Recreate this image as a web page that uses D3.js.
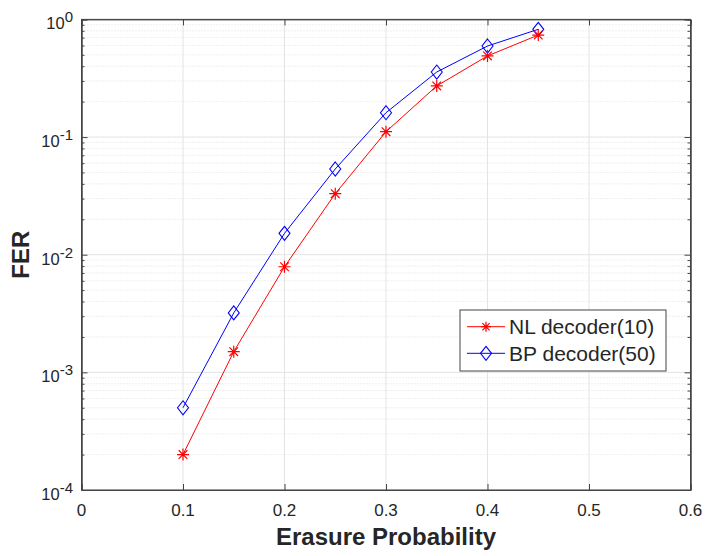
<!DOCTYPE html>
<html>
<head>
<meta charset="utf-8">
<script src="https://cdn.jsdelivr.net/npm/d3@7"></script>
<style>
  body { margin: 0; background: #fff; }
  text { font-family: "Liberation Sans", Arial, Helvetica, sans-serif; fill: #262626; }
</style>
</head>
<body>
<div id="chart"></div>
<script>
// data
const erasureProb = [0.1, 0.15, 0.2, 0.25, 0.3, 0.35, 0.4, 0.45];
const nlFER = [2.0e-4, 1.5e-3, 7.9e-3, 0.033, 0.111, 0.272, 0.489, 0.736];
const bpFER = [5.0e-4, 3.2e-3, 0.0152, 0.0535, 0.161, 0.357, 0.594, 0.824];
const seriesNames = ["NL decoder(10)", "BP decoder(50)"];
const xTicks = [0, 0.1, 0.2, 0.3, 0.4, 0.5, 0.6];
const yExps = [-4, -3, -2, -1, 0];

const W = 707, H = 556;
const pLeft = 81.5, pRight = 690.5, pTop = 19.4, pBottom = 490;

const svg = d3.select("#chart").append("svg").attr("width", W).attr("height", H);

const x = d3.scaleLinear().domain([0, 0.6]).range([pLeft, pRight]);
const y = d3.scaleLog().domain([1e-4, 1]).range([pBottom, pTop]);

// minor values 2..9 per decade
const minor = [];
yExps.slice(0, -1).forEach(e => { for (let k = 2; k <= 9; k++) minor.push(k * Math.pow(10, e)); });

const grid = svg.append("g");
grid.selectAll(".ymin").data(minor).enter().append("line")
  .attr("x1", pLeft).attr("x2", pRight)
  .attr("y1", d => y(d)).attr("y2", d => y(d))
  .attr("stroke", "#d8d8d8").attr("stroke-width", 0.8).attr("stroke-dasharray", "1,2");
grid.selectAll(".ymaj").data(yExps).enter().append("line")
  .attr("x1", pLeft).attr("x2", pRight)
  .attr("y1", d => y(Math.pow(10, d))).attr("y2", d => y(Math.pow(10, d)))
  .attr("stroke", "#e3e3e3").attr("stroke-width", 1);
grid.selectAll(".xmaj").data(xTicks).enter().append("line")
  .attr("x1", d => x(d)).attr("x2", d => x(d))
  .attr("y1", pTop).attr("y2", pBottom)
  .attr("stroke", "#e3e3e3").attr("stroke-width", 1);

// axes: ticks inward on all four sides
const axCol = "#444";
const xb = svg.append("g").attr("transform", "translate(0," + pBottom + ")")
  .call(d3.axisTop(x).tickValues(xTicks).tickSize(6).tickFormat(""));
const xt = svg.append("g").attr("transform", "translate(0," + pTop + ")")
  .call(d3.axisBottom(x).tickValues(xTicks).tickSize(6).tickFormat(""));
const yl = svg.append("g").attr("transform", "translate(" + pLeft + ",0)")
  .call(d3.axisRight(y).tickValues(yExps.map(e => Math.pow(10, e))).tickSize(6).tickFormat(""));
const yr = svg.append("g").attr("transform", "translate(" + pRight + ",0)")
  .call(d3.axisLeft(y).tickValues(yExps.map(e => Math.pow(10, e))).tickSize(6).tickFormat(""));
const ylm = svg.append("g").attr("transform", "translate(" + pLeft + ",0)")
  .call(d3.axisRight(y).tickValues(minor).tickSize(3).tickFormat(""));
const yrm = svg.append("g").attr("transform", "translate(" + pRight + ",0)")
  .call(d3.axisLeft(y).tickValues(minor).tickSize(3).tickFormat(""));
[xb, xt, yl, yr, ylm, yrm].forEach(g => {
  g.selectAll("path").attr("stroke", axCol).attr("stroke-width", 1);
  g.selectAll("line").attr("stroke", axCol).attr("stroke-width", 1);
});
// close the box corners
svg.append("rect").attr("x", pLeft).attr("y", pTop).attr("width", pRight - pLeft).attr("height", pBottom - pTop)
  .attr("fill", "none").attr("stroke", axCol).attr("stroke-width", 1);

// tick labels
svg.selectAll(".xl").data(xTicks).enter().append("text")
  .attr("x", d => x(d)).attr("y", pBottom + 26)
  .attr("text-anchor", "middle").attr("font-size", 17)
  .text(d => d3.format("")(d));

const ylab = svg.selectAll(".yl").data(yExps).enter().append("text")
  .attr("x", 73).attr("y", d => y(Math.pow(10, d)) + 10)
  .attr("text-anchor", "end").attr("font-size", 16.5);
ylab.append("tspan").text("10");
ylab.append("tspan").attr("dy", -7).attr("font-size", 15).text(d => d);

// axis titles
svg.append("text").attr("x", (pLeft + pRight) / 2).attr("y", 545)
  .attr("text-anchor", "middle").attr("font-size", 24).attr("font-weight", "bold")
  .text("Erasure Probability");
svg.append("text").attr("transform", "translate(29," + ((pTop + pBottom) / 2) + ") rotate(-90)")
  .attr("text-anchor", "middle").attr("font-size", 24).attr("font-weight", "bold")
  .text("FER");

// series
const line = d3.line().x(d => x(d[0])).y(d => y(d[1]));
const nl = erasureProb.map((p, i) => [p, nlFER[i]]);
const bp = erasureProb.map((p, i) => [p, bpFER[i]]);

function star(g, cx, cy, r, col) {
  const a = r * 0.72;
  g.append("path")
    .attr("d", `M${cx - r},${cy}L${cx + r},${cy}M${cx},${cy - r}L${cx},${cy + r}` +
      `M${cx - a},${cy - a}L${cx + a},${cy + a}M${cx - a},${cy + a}L${cx + a},${cy - a}`)
    .attr("stroke", col).attr("stroke-width", 1.2).attr("fill", "none");
}
function diamond(g, cx, cy, col) {
  g.append("path")
    .attr("d", `M${cx},${cy - 7}L${cx + 5.5},${cy}L${cx},${cy + 7}L${cx - 5.5},${cy}Z`)
    .attr("stroke", col).attr("stroke-width", 1.1).attr("fill", "none");
}

const gs = svg.append("g");
gs.append("path").datum(bp).attr("d", line).attr("fill", "none").attr("stroke", "#0000ff").attr("stroke-width", 1);
gs.append("path").datum(nl).attr("d", line).attr("fill", "none").attr("stroke", "#ff0000").attr("stroke-width", 1);
bp.forEach(d => diamond(gs, x(d[0]), y(d[1]), "#0000ff"));
nl.forEach(d => star(gs, x(d[0]), y(d[1]), 6, "#ff0000"));

// legend
const lg = svg.append("g");
lg.append("rect").attr("x", 460).attr("y", 310).attr("width", 206).attr("height", 61)
  .attr("fill", "#fff").attr("stroke", axCol).attr("stroke-width", 1);
const rows = [{ name: seriesNames[0], col: "#ff0000", mk: "star" }, { name: seriesNames[1], col: "#0000ff", mk: "dia" }];
rows.forEach((r, i) => {
  const ry = 326.7 + i * 26.6;
  lg.append("line").attr("x1", 467).attr("x2", 505).attr("y1", ry).attr("y2", ry)
    .attr("stroke", r.col).attr("stroke-width", 1);
  if (r.mk === "star") star(lg, 486, ry, 5, r.col); else diamond(lg, 486, ry, r.col);
  lg.append("text").attr("x", 509).attr("y", ry + 7.5).attr("font-size", 21).text(r.name);
});
</script>
</body>
</html>
